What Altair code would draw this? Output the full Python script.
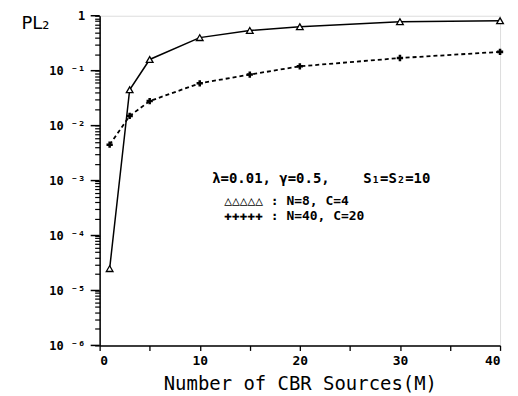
import altair as alt
import pandas as pd

M = [1, 3, 5, 10, 15, 20, 30, 40]
pl_n8 = [2.5e-5, 0.045, 0.16, 0.40, 0.54, 0.63, 0.78, 0.81]
pl_n40 = [0.0045, 0.015, 0.028, 0.059, 0.085, 0.12, 0.17, 0.22]

series_names = ["N=8, C=4", "N=40, C=20"]
y_labels = ["1", "10 ⁻¹", "10 ⁻²", "10 ⁻³", "10 ⁻⁴", "10 ⁻⁵", "10 ⁻⁶"]
y_decades = [1.0, 1e-1, 1e-2, 1e-3, 1e-4, 1e-5, 1e-6]
x_ticks = [0, 5, 10, 15, 20, 25, 30, 35, 40]
NB = "\u00a0"
annotation = "λ=0.01," + NB + "γ=0.5," + NB * 4 + "S₁=S₂=10"
legend_rows = ["△△△△△" + NB + ":" + NB + "N=8," + NB + "C=4",
               "✚✚✚✚✚" + NB + ":" + NB + "N=40," + NB + "C=20"]

y_ticks = [k * 10.0 ** d for d in range(-6, 0) for k in range(1, 10)] + [1.0]

df = pd.DataFrame({
    "M": M * 2,
    "PL": pl_n8 + pl_n40,
    "series": [series_names[0]] * len(M) + [series_names[1]] * len(M),
})
df1 = df[df.series == series_names[0]]
df2 = df[df.series == series_names[1]]

major_test = "abs(round(log(datum.value)/LN10) - log(datum.value)/LN10) < 0.001"
label_arr = "[" + ",".join("'" + s + "'" for s in y_labels) + "]"

x_enc = alt.X("M:Q", scale=alt.Scale(domain=[0, 40], nice=False),
              axis=alt.Axis(values=x_ticks, title="Number of CBR Sources(M)",
                            labelExpr="datum.value % 10 == 0 ? datum.label : ''",
                            grid=False, tickSize=5, tickColor="black", domainColor="black",
                            tickWidth=1.3, domainWidth=1.5,
                            labelFont="DejaVu Sans Mono", labelFontSize=13, labelFontWeight="bold",
                            labelColor="black", labelPadding=4,
                            titleFont="DejaVu Sans Mono", titleFontSize=19, titleFontWeight="normal",
                            titleColor="black", titlePadding=7))
y_enc = alt.Y("PL:Q", scale=alt.Scale(type="log", domain=[1e-6, 1], nice=False),
              axis=alt.Axis(values=y_ticks, title="PL₂", titleAngle=0, titleX=-65, titleY=8,
                            titleAlign="center", titleBaseline="middle",
                            titleFont="DejaVu Sans", titleFontSize=18, titleFontWeight="normal",
                            titleColor="black",
                            labelExpr="(" + major_test + ") ? " + label_arr + "[-round(log(datum.value)/LN10)] : ''",
                            tickSize=5, tickWidth=1.2, domainWidth=1.5,
                            grid=False, tickColor="black", domainColor="black",
                            labelFont="DejaVu Sans Mono", labelFontSize=12, labelFontWeight="bold",
                            labelColor="black", labelPadding=10))

major = alt.Chart(pd.DataFrame({"v": y_decades})).mark_rule(color="black", strokeWidth=1.5).encode(
    y="v:Q", x=alt.value(-9), x2=alt.value(0))

line1 = alt.Chart(df1).mark_line(color="black", strokeWidth=1.5).encode(x=x_enc, y=y_enc)
pts1 = alt.Chart(df1).mark_point(shape="triangle-up", color="black", fill="white", filled=False,
                                 size=45, strokeWidth=1.3, opacity=1).encode(x="M:Q", y="PL:Q")
line2 = alt.Chart(df2).mark_line(color="black", strokeWidth=1.8, strokeDash=[4, 3]).encode(x="M:Q", y="PL:Q")
pts2 = alt.Chart(df2).mark_point(shape="cross", color="black", filled=True, size=40, opacity=1).encode(x="M:Q", y="PL:Q")

text_style = dict(font="DejaVu Sans Mono", fontWeight="bold", align="left", baseline="middle", color="black")

ann = alt.Chart(pd.DataFrame({"t": [annotation]})).mark_text(fontSize=14, **text_style).encode(
    x=alt.value(113), y=alt.value(164), text="t:N")
leg1 = alt.Chart(pd.DataFrame({"t": [legend_rows[0]]})).mark_text(fontSize=13, **text_style).encode(
    x=alt.value(125), y=alt.value(186), text="t:N")
leg2 = alt.Chart(pd.DataFrame({"t": [legend_rows[1]]})).mark_text(fontSize=13, **text_style).encode(
    x=alt.value(125), y=alt.value(201), text="t:N")

chart = alt.layer(line1, major, pts1, line2, pts2, ann, leg1, leg2).properties(
    width=402, height=331,
    autosize=alt.AutoSizeParams(type="none"),
    padding={"left": 92, "top": 7, "right": 10, "bottom": 48},
).configure_view(stroke="black", strokeWidth=1.5).configure(background="white")

chart.save("out.html", embed_options={"renderer": "svg", "actions": False})
